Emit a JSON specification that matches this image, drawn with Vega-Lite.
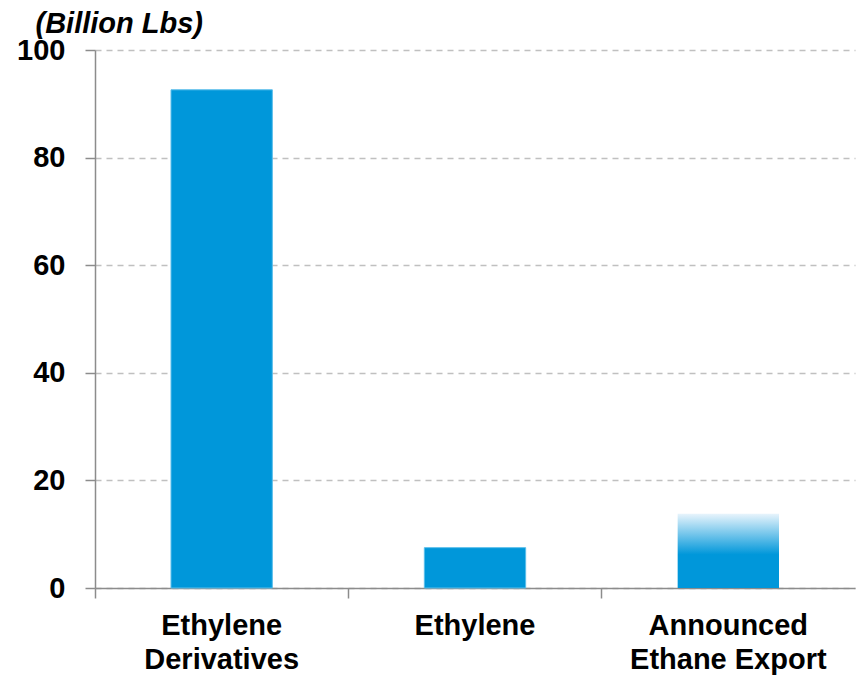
{
  "$schema": "https://vega.github.io/schema/vega-lite/v6.json",
  "autosize": "none",
  "width": 760,
  "height": 538,
  "padding": {"left": 95, "top": 50, "right": 6, "bottom": 89},
  "background": "white",
  "config": {"view": {"stroke": null}, "font": "Liberation Sans"},
  "data": {"values": [
    {"category": "Ethylene|Derivatives", "value": 92.6, "kind": "actual"},
    {"category": "Ethylene", "value": 7.5, "kind": "actual"},
    {"category": "Announced|Ethane Export", "value": 13.8, "kind": "announced"}
  ]},
  "encoding": {
    "x": {
      "field": "category", "type": "nominal", "sort": null,
      "scale": {"paddingInner": 0, "paddingOuter": 0},
      "axis": {
        "title": null, "bandPosition": 0,
        "labelExpr": "split(datum.label, '|')", "labelAngle": 0, "labelLimit": 0,
        "labelFont": "Liberation Sans", "labelFontSize": 29, "labelFontWeight": "bold",
        "labelColor": "#000000", "labelLineHeight": 34, "labelPadding": 13,
        "labelBaseline": "top",
        "domainColor": "#8c8c8c", "domainWidth": 1.5,
        "tickColor": "#8c8c8c", "tickWidth": 1.5, "tickSize": 10
      }
    },
    "y": {
      "field": "value", "type": "quantitative",
      "scale": {"domain": [0, 100], "nice": false},
      "axis": {
        "values": [0, 20, 40, 60, 80, 100],
        "title": "(Billion Lbs)", "titleAngle": 0, "titleAlign": "left", "titleBaseline": "alphabetic",
        "titleX": -60, "titleY": -18, "titleFont": "Liberation Sans", "titleFontSize": 29,
        "titleFontStyle": "italic", "titleFontWeight": "bold", "titleColor": "#000000",
        "labelFont": "Liberation Sans", "labelFontSize": 29, "labelFontWeight": "bold",
        "labelColor": "#000000", "labelPadding": 20,
        "domainColor": "#8c8c8c", "domainWidth": 1.5,
        "tickColor": "#8c8c8c", "tickWidth": 1.5, "tickSize": 10,
        "grid": true, "gridColor": "#c0c0c0", "gridDash": [6, 5], "gridWidth": 1.5
      }
    }
  },
  "layer": [
    {
      "transform": [{"filter": "datum.kind === 'actual'"}],
      "mark": {"type": "bar", "width": {"band": 0.4}, "fill": "#0097DA", "stroke": "#5ABEEB", "strokeWidth": 1}
    },
    {
      "transform": [{"filter": "datum.kind === 'announced'"}],
      "mark": {"type": "bar", "width": {"band": 0.4},
        "fill": {"gradient": "linear", "x1": 0, "y1": 0, "x2": 0, "y2": 1,
          "stops": [{"offset": 0, "color": "#e8f4fc"}, {"offset": 0.55, "color": "#0097DA"}, {"offset": 1, "color": "#0097DA"}]}
      }
    }
  ]
}
